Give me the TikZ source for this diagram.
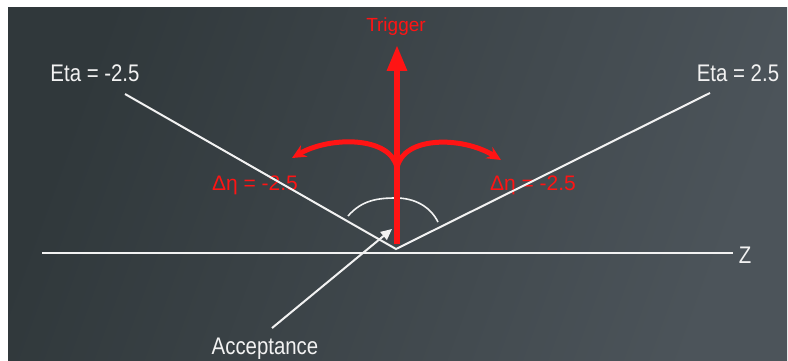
\documentclass[tikz,border=0pt]{standalone}
\usepackage{fontspec}
\setmainfont{Liberation Sans}
\newfontfamily\narrowfont[FakeStretch=0.85]{Liberation Sans}
\usetikzlibrary{arrows.meta}
\definecolor{bgA}{HTML}{30383B}
\definecolor{bgB}{HTML}{4C545A}
\definecolor{trig}{HTML}{FF1414}
\definecolor{wline}{HTML}{F2F2F2}
\tikzset{
  wtext/.style={text=wline,inner sep=0pt,font=\narrowfont\fontsize{24}{28}\selectfont},
  rtext/.style={text=trig,inner sep=0pt,font=\fontsize{21}{24}\selectfont},
  wl/.style={draw=wline,line width=2pt},
  rl/.style={draw=trig,line width=5pt},
}
\begin{document}
\begin{tikzpicture}[x=1pt,y=-1pt]
\useasboundingbox (0,0) rectangle (788,361);
\fill[white] (0,0) rectangle (788,361);
\shade[left color=bgA,right color=bgB,shading angle=70] (8,8) rectangle (787,361);
% coordinates
\coordinate (O) at (396,249);
\coordinate (Lend) at (125,94);
\coordinate (Rend) at (710,93);
\coordinate (zL) at (42,253);
\coordinate (tb) at (397,244);
\coordinate (tt) at (397,45);
\coordinate (fork) at (397,168);
\coordinate (acc) at (392,229);
% labels
\node[wtext] (etaL) at (95,73) {Eta = -2.5};
\node[wtext] (etaR) at (738,73) {Eta = 2.5};
\node[wtext] (Z) at (745,255) {Z};
\node[wtext] (Acc) at (265,349) {Acceptance};
\node[rtext,font=\fontsize{19}{22}\selectfont] (Trig) at (396,27) {Trigger};
\node[rtext] (dL) at (255,185) {Δη = -2.5};
\node[rtext] (dR) at (533,185) {Δη = -2.5};
% white lines
\draw[wl,shorten >=6pt] (zL) -- (zL -| Z.west);
\draw[wl] (Lend) -- (O) -- (Rend);
\draw[wl,line width=1.6pt] (348,216) .. controls (362,200) and (378,198) .. (396,198) .. controls (414,198) and (430,206) .. (438,222);
% red trigger arrow
\draw[rl,line width=6pt,-{Triangle[length=26pt,width=19pt]}] (tb) -- (tt);
\draw[rl,-{Stealth[length=14pt,width=13pt]}] (fork) .. controls (391,136) and (330,136) .. (292,158);
\draw[rl,-{Stealth[length=14pt,width=13pt]}] (fork) .. controls (403,136) and (462,136) .. (501,160);
% acceptance arrow
\draw[wl,-{Triangle[length=11pt,width=10pt]}] ([xshift=7pt,yshift=10pt]Acc.north) -- (acc);
\end{tikzpicture}
\end{document}
